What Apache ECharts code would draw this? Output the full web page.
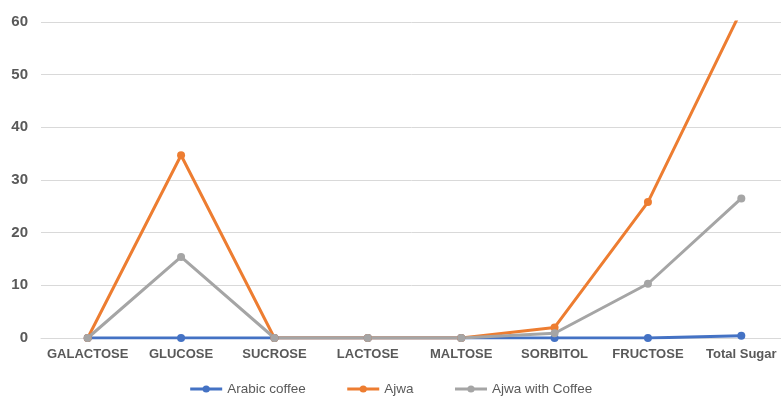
<!DOCTYPE html>
<html>
<head>
<meta charset="utf-8">
<script src="https://cdn.jsdelivr.net/npm/echarts@6/dist/echarts.min.js"></script>
<style>
  html, body { margin: 0; padding: 0; background: #ffffff; }
  #chart { width: 781px; height: 396px; }
</style>
</head>
<body>
<div id="chart"></div>
<script>
// Sugar content by type
const categories = ['GALACTOSE', 'GLUCOSE', 'SUCROSE', 'LACTOSE', 'MALTOSE', 'SORBITOL', 'FRUCTOSE', 'Total Sugar'];
const arabicCoffee = [0, 0, 0, 0, 0, 0, 0, 0.45];
const ajwa = [0, 34.7, 0, 0, 0, 2.0, 25.8, 62.2];
const ajwaWithCoffee = [0, 15.4, 0, 0, 0, 0.9, 10.3, 26.5];
const yTicks = { min: 0, max: 60, interval: 10 };

const labelColor = '#595959';
const gridColor = '#d9d9d9';
const font = 'Liberation Sans, Arial, sans-serif';

function lineSeries(name, data, color) {
  return {
    name: name,
    type: 'line',
    data: data,
    symbol: 'circle',
    symbolSize: 8,
    lineStyle: { width: 3, color: color },
    itemStyle: { color: color },
    clip: true,
    z: 2
  };
}

const chart = echarts.init(document.getElementById('chart'), null, { renderer: 'canvas' });
chart.setOption({
  animation: false,
  backgroundColor: '#ffffff',
  grid: { left: 41, top: 22, right: -7, bottom: 58, containLabel: false, outerBoundsMode: 'none' },
  legend: {
    left: 'center',
    top: 377,
    itemWidth: 32,
    itemHeight: 9,
    itemGap: 40,
    lineStyle: { width: 3 },
    textStyle: { color: labelColor, fontSize: 13.5, fontFamily: font },
    data: ['Arabic coffee', 'Ajwa', 'Ajwa with Coffee']
  },
  xAxis: {
    type: 'category',
    data: categories,
    boundaryGap: true,
    axisLine: { show: true, lineStyle: { color: gridColor, width: 1 } },
    axisTick: { show: false },
    axisLabel: {
      color: labelColor,
      fontSize: 13,
      fontWeight: 'bold',
      fontFamily: font,
      margin: 10,
      interval: 0
    }
  },
  yAxis: {
    type: 'value',
    min: yTicks.min,
    max: yTicks.max,
    interval: yTicks.interval,
    axisLine: { show: false },
    axisTick: { show: false },
    splitLine: { lineStyle: { color: gridColor, width: 1 } },
    axisLabel: {
      color: labelColor,
      fontSize: 15,
      fontWeight: 'bold',
      fontFamily: font,
      margin: 13,
      padding: [3, 0, 0, 0]
    }
  },
  series: [
    lineSeries('Arabic coffee', arabicCoffee, '#4472C4'),
    lineSeries('Ajwa', ajwa, '#ED7D31'),
    lineSeries('Ajwa with Coffee', ajwaWithCoffee, '#A5A5A5')
  ]
});
</script>
</body>
</html>
